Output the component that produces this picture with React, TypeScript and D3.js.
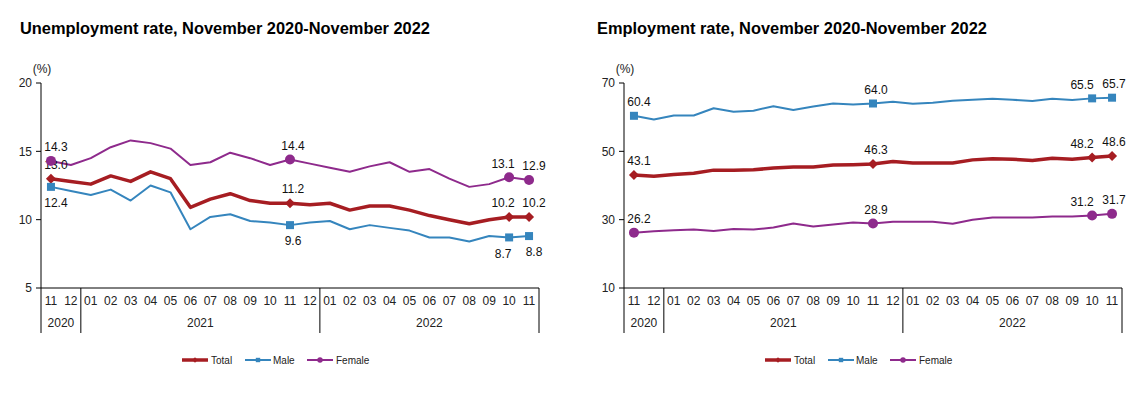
import React from 'react';
import * as d3 from 'd3';

const months = ['11', '12', '01', '02', '03', '04', '05', '06', '07', '08', '09', '10', '11', '12', '01', '02', '03', '04', '05', '06', '07', '08', '09', '10', '11'];
const years = [
  { label: '2020', from: 0, to: 2 },
  { label: '2021', from: 2, to: 14 },
  { label: '2022', from: 14, to: 25 },
];

const unempTotal = [13.0, 12.8, 12.6, 13.2, 12.8, 13.5, 13.0, 10.9, 11.5, 11.9, 11.4, 11.2, 11.2, 11.1, 11.2, 10.7, 11.0, 11.0, 10.7, 10.3, 10.0, 9.7, 10.0, 10.2, 10.2];
const unempMale = [12.4, 12.1, 11.8, 12.2, 11.4, 12.5, 12.0, 9.3, 10.2, 10.4, 9.9, 9.8, 9.6, 9.8, 9.9, 9.3, 9.6, 9.4, 9.2, 8.7, 8.7, 8.4, 8.8, 8.7, 8.8];
const unempFemale = [14.3, 14.0, 14.5, 15.3, 15.8, 15.6, 15.2, 14.0, 14.2, 14.9, 14.5, 14.0, 14.4, 14.1, 13.8, 13.5, 13.9, 14.2, 13.5, 13.7, 13.0, 12.4, 12.6, 13.1, 12.9];

const empTotal = [43.1, 42.7, 43.2, 43.6, 44.5, 44.5, 44.6, 45.1, 45.4, 45.4, 46.0, 46.1, 46.3, 47.0, 46.6, 46.6, 46.6, 47.5, 47.8, 47.7, 47.3, 48.0, 47.7, 48.2, 48.6];
const empMale = [60.4, 59.3, 60.5, 60.5, 62.6, 61.6, 61.9, 63.2, 62.1, 63.1, 64.0, 63.7, 64.0, 64.5, 63.9, 64.2, 64.8, 65.1, 65.4, 65.1, 64.7, 65.4, 65.0, 65.5, 65.7];
const empFemale = [26.2, 26.6, 26.9, 27.1, 26.7, 27.3, 27.1, 27.7, 28.9, 28.0, 28.6, 29.2, 28.9, 29.4, 29.4, 29.4, 28.8, 30.0, 30.6, 30.6, 30.6, 30.9, 30.9, 31.2, 31.7];

const markedIdx = [0, 12, 23, 24];

const unempTicks = [5, 10, 15, 20];
const empTicks = [10, 30, 50, 70];

const RED = '#a61d22';
const BLUE = '#3585bd';
const PURPLE = '#8e2a8c';

type Series = { name: string; values: number[]; color: string; width: number; marker: 'diamond' | 'square' | 'circle'; below: boolean };

const Marker: React.FC<{ kind: string; x: number; y: number; color: string; k?: number }> = ({ kind, x, y, color, k = 1 }) => {
  if (kind === 'diamond') {
    const s = 5 * k;
    return <path d={`M${x},${y - s}L${x + s},${y}L${x},${y + s}L${x - s},${y}Z`} fill={color} />;
  }
  if (kind === 'square') {
    return <rect x={x - 4 * k} y={y - 4 * k} width={8 * k} height={8 * k} fill={color} />;
  }
  return <circle cx={x} cy={y} r={5 * k} fill={color} />;
};

const Panel: React.FC<{ left: number; titleX: number; title: string; domain: [number, number]; ticks: number[]; series: Series[]; endShift: number[] }> = ({ left, titleX, title, domain, ticks, series, endShift }) => {
  const x0 = left;
  const x1 = left + 498;
  const yTop = 83;
  const yBot = 288;
  const x = d3.scaleBand<number>().domain(d3.range(months.length)).range([x0, x1]);
  const y = d3.scaleLinear().domain(domain).range([yBot, yTop]);
  const cx = (i: number) => (x(i) as number) + x.bandwidth() / 2;
  const line = d3.line<number>().x((_, i) => cx(i)).y(d => y(d));
  const edge = (i: number) => (i >= months.length ? x1 : (x(i) as number));
  const font = 'Arial, "Liberation Sans", sans-serif';
  // small label nudges so the end labels don't collide
  const shift = (i: number) => (i === 0 ? 5 : i === 12 ? 3 : i === 23 ? endShift[0] : endShift[1]);

  const legendItems = [
    { s: series[0], lx: left + 141, tx: left + 170 },
    { s: series[1], lx: left + 204, tx: left + 232 },
    { s: series[2], lx: left + 266, tx: left + 295 },
  ];

  return (
    <g fontFamily={font}>
      <text x={titleX} y={34} fontSize={16.4} fontWeight="bold" fill="#000">{title}</text>
      <text x={left + 1} y={73} fontSize={12} textAnchor="middle" fill="#222">(%)</text>
      {/* y axis */}
      <line x1={x0} x2={x0} y1={yTop} y2={333} stroke="#000" />
      {ticks.map(t => (
        <g key={t}>
          <line x1={x0 - 5} x2={x0} y1={y(t)} y2={y(t)} stroke="#000" />
          <text x={x0 - 9} y={y(t)} dy="0.35em" fontSize={12} textAnchor="end" fill="#222">{t}</text>
        </g>
      ))}
      {/* x axis */}
      <line x1={x0} x2={x1} y1={yBot} y2={yBot} stroke="#000" />
      {years.map(yr => (
        <g key={yr.label}>
          <line x1={edge(yr.to)} x2={edge(yr.to)} y1={yBot} y2={333} stroke="#000" />
          <text x={(edge(yr.from) + edge(yr.to)) / 2} y={327} fontSize={12} textAnchor="middle" fill="#222">{yr.label}</text>
        </g>
      ))}
      {months.map((m, i) => (
        <text key={i} x={cx(i)} y={305} fontSize={12} textAnchor="middle" fill="#222">{m}</text>
      ))}
      {/* lines */}
      {series.slice().reverse().map(s => (
        <path key={s.name} d={line(s.values) || ''} fill="none" stroke={s.color} strokeWidth={s.width} strokeLinejoin="round" />
      ))}
      {series.map(s => markedIdx.map(i => (
        <g key={s.name + i}>
          <Marker kind={s.marker} x={cx(i)} y={y(s.values[i])} color={s.color} />
          <text x={cx(i) + shift(i)} y={y(s.values[i]) + (s.below ? 16 : -14)} dy="0.35em" fontSize={12} textAnchor="middle" fill="#111">{s.values[i].toFixed(1)}</text>
        </g>
      )))}
      {/* legend */}
      {legendItems.map(({ s, lx, tx }) => (
        <g key={s.name}>
          <line x1={lx} x2={lx + 26} y1={360} y2={360} stroke={s.color} strokeWidth={s.width} />
          <Marker kind={s.marker} x={lx + 13} y={360} color={s.color} k={0.55} />
          <text x={tx} y={360} dy="0.35em" fontSize={10} fill="#222">{s.name}</text>
        </g>
      ))}
    </g>
  );
};

const App: React.FC = () => {
  const unemp: Series[] = [
    { name: 'Total', values: unempTotal, color: RED, width: 3.5, marker: 'diamond', below: false },
    { name: 'Male', values: unempMale, color: BLUE, width: 2, marker: 'square', below: true },
    { name: 'Female', values: unempFemale, color: PURPLE, width: 2, marker: 'circle', below: false },
  ];
  const emp: Series[] = [
    { name: 'Total', values: empTotal, color: RED, width: 3.5, marker: 'diamond', below: false },
    { name: 'Male', values: empMale, color: BLUE, width: 2, marker: 'square', below: false },
    { name: 'Female', values: empFemale, color: PURPLE, width: 2, marker: 'circle', below: false },
  ];
  return (
    <svg width={1148} height={397} style={{ position: 'absolute', left: 0, top: 0, background: '#fff' }}>
      <rect width={1148} height={397} fill="#fff" />
      <Panel left={41} titleX={20} title="Unemployment rate, November 2020-November 2022" domain={[5, 20]} ticks={unempTicks} series={unemp} endShift={[-6, 5]} />
      <Panel left={624} titleX={597} title="Employment rate, November 2020-November 2022" domain={[10, 70]} ticks={empTicks} series={emp} endShift={[-10, 2]} />
    </svg>
  );
};

export default App;
